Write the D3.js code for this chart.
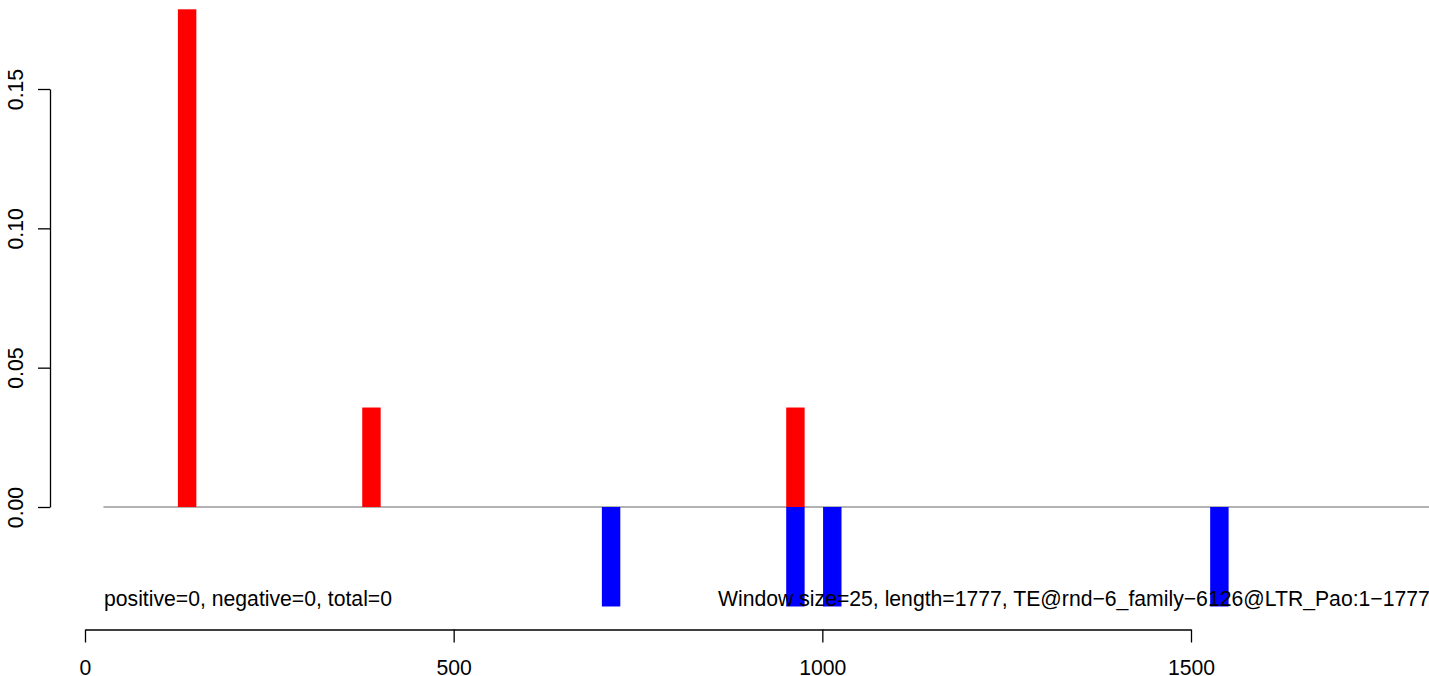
<!DOCTYPE html>
<html>
<head>
<meta charset="utf-8">
<script src="https://cdn.jsdelivr.net/npm/d3@7"></script>
<style>
  html, body { margin: 0; padding: 0; background: #fff; overflow: hidden; }
  svg { display: block; }
  text { font-family: "Liberation Sans", Arial, Helvetica, sans-serif; }
</style>
</head>
<body>
<svg id="chart" width="1429" height="676"></svg>
<script>
// ---- data ----
const windowSize = 25;
const seqLength = 1777;
const positiveStarts = [126, 376, 951];
const positiveValues = [0.1786, 0.0357, 0.0357];
const negativeStarts = [701, 951, 1001, 1526];
const negativeValues = [-0.0357, -0.0357, -0.0357, -0.0357];
const xTicks = [0, 500, 1000, 1500];
const yTicks = [0.00, 0.05, 0.10, 0.15];
const baselineRange = [25, 1960];
const leftNote = "positive=0, negative=0, total=0";
const rightNote = "Window size=25, length=1777, TE@rnd\u22126_family\u22126126@LTR_Pao:1\u22121777";

// ---- layout ----
const svg = d3.select("#chart");
const x = d3.scaleLinear().domain([0, 1500]).range([85, 1191]);
const y = d3.scaleLinear().domain([0, 0.15]).range([507, 89]);
const FS = 21.2;

// baseline (gray)
svg.append("line")
  .attr("x1", x(baselineRange[0])).attr("x2", x(baselineRange[1]))
  .attr("y1", y(0)).attr("y2", y(0))
  .attr("stroke", "#999").attr("stroke-width", 1.3);

// positive bars (red)
svg.append("g").selectAll("rect")
  .data(positiveStarts.map((s, i) => ({s, v: positiveValues[i]})))
  .join("rect")
  .attr("x", d => x(d.s))
  .attr("width", d => x(d.s + windowSize) - x(d.s))
  .attr("y", d => y(d.v))
  .attr("height", d => y(0) - y(d.v))
  .attr("fill", "#ff0000");

// negative bars (blue)
svg.append("g").selectAll("rect")
  .data(negativeStarts.map((s, i) => ({s, v: negativeValues[i]})))
  .join("rect")
  .attr("x", d => x(d.s))
  .attr("width", d => x(d.s + windowSize) - x(d.s))
  .attr("y", y(0))
  .attr("height", d => y(d.v) - y(0))
  .attr("fill", "#0000ff");

// notes
svg.append("text")
  .attr("x", 104).attr("y", 606)
  .attr("font-size", FS).attr("fill", "#000")
  .text(leftNote);
svg.append("text")
  .attr("x", 718).attr("y", 606)
  .attr("font-size", FS).attr("fill", "#000")
  .text(rightNote);

// x axis
const xAxis = svg.append("g").attr("transform", "translate(0,629.5)")
  .call(d3.axisBottom(x).tickValues(xTicks).tickSize(13).tickSizeOuter(0).tickFormat(d3.format("d")));
xAxis.select(".domain").attr("stroke", "#000").attr("stroke-width", 1.3);
xAxis.selectAll(".tick line").attr("stroke", "#000").attr("stroke-width", 1.3);
xAxis.selectAll(".tick text")
  .attr("font-size", FS).attr("font-family", "Liberation Sans, Arial, sans-serif")
  .attr("fill", "#000").attr("dy", null).attr("y", 45);

// y axis
const yAxis = svg.append("g").attr("transform", "translate(50,0)")
  .call(d3.axisLeft(y).tickValues(yTicks).tickSize(12).tickSizeOuter(0).tickFormat(d3.format(".2f")));
yAxis.select(".domain").attr("stroke", "#000").attr("stroke-width", 1.3);
yAxis.selectAll(".tick line").attr("stroke", "#000").attr("stroke-width", 1.3);
yAxis.selectAll(".tick text")
  .attr("font-size", FS).attr("font-family", "Liberation Sans, Arial, sans-serif")
  .attr("fill", "#000")
  .attr("text-anchor", "middle")
  .attr("x", null).attr("dy", null)
  .attr("transform", "translate(-27.5,0) rotate(-90)");
</script>
</body>
</html>
